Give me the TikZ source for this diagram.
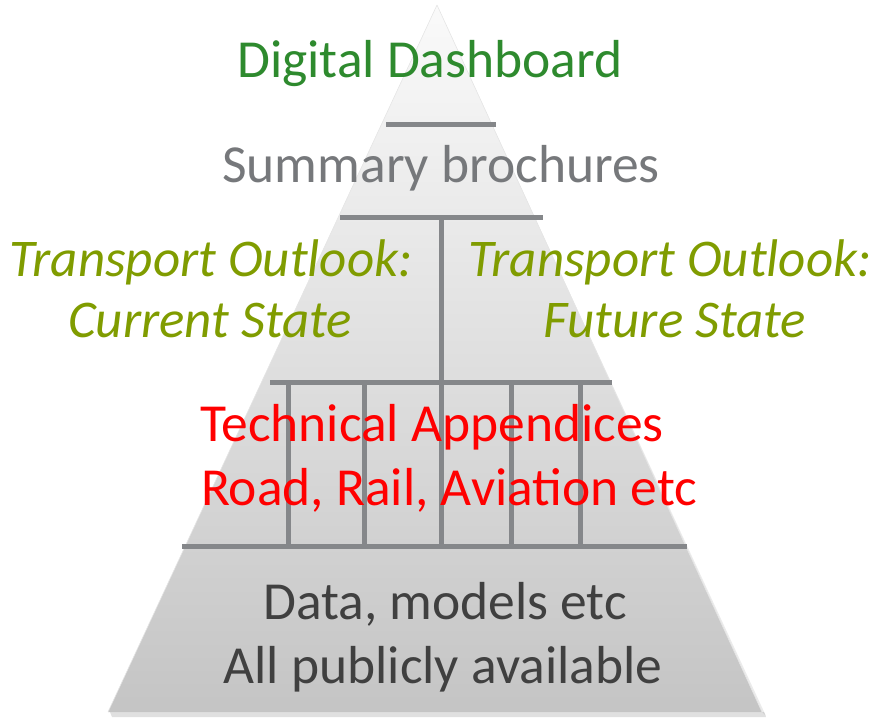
\documentclass[tikz,border=0pt]{standalone}
\usepackage{fontspec}
\setmainfont{Carlito}
\definecolor{dashgreen}{RGB}{46,138,46}
\definecolor{brochgray}{RGB}{118,120,123}
\definecolor{outlookolive}{RGB}{128,156,0}
\definecolor{datagray}{RGB}{64,64,64}
\definecolor{bargray}{RGB}{133,135,138}
\tikzset{
  bar/.style={draw=bargray, line width=5pt},
  label/.style={anchor=base, inner sep=0pt, font=\fontsize{53.5}{64}\selectfont},
  slanted/.style={label, text=outlookolive, font=\fontsize{53}{64}\selectfont\itshape}
}
\begin{document}
\begin{tikzpicture}[x=1pt, y=-1pt]
    \useasboundingbox (0,0) rectangle (876,719);
    \coordinate (Apex) at (437,5);
    \coordinate (BL) at (108,712);
    \coordinate (BR) at (762,712);
    % shadow and body
    \fill[black, opacity=0.12] (110,712) -- (764,712) -- (766,717) -- (112,717) -- cycle;
    \fill[black, opacity=0.08] (437,7) -- (766,716) -- (762,712) -- cycle;
    \shade[top color=black!2, middle color=black!14, bottom color=black!23] (Apex) -- (BL) -- (BR) -- cycle;
    \draw[white!90!black, line width=0.6pt] (Apex) -- (BL) (Apex) -- (BR);
    % separators
    \draw[bar] (386,125) -- (496,125);
    \draw[bar] (340,218) -- (543,218);
    \draw[bar] (441,218) -- (441,383);
    \draw[bar] (270,383) -- (612,383);
    \draw[bar] (288,383) -- (288,546);
    \draw[bar] (364,383) -- (364,546);
    \draw[bar] (441,383) -- (441,546);
    \draw[bar] (511,383) -- (511,546);
    \draw[bar] (580,383) -- (580,546);
    \draw[bar] (182,546) -- (687,546);
    % texts
    \node[label, text=dashgreen] (dash) at (430,78) {Digital Dashboard};
    \node[label, text=brochgray] (broch) at (441,183) {Summary brochures};
    \node[slanted] (curA) at (211,277) {Transport Outlook:};
    \node[slanted] (curB) at (210,338) {Current State};
    \node[slanted] (futA) at (670,277) {Transport Outlook:};
    \node[slanted] (futB) at (675,338) {Future State};
    \node[label, text=red] (techA) at (432,441) {Technical Appendices};
    \node[label, text=red] (techB) at (449,505) {Road, Rail, Aviation etc};
    \node[label, text=datagray] (dataA) at (445,619) {Data, models etc};
    \node[label, text=datagray] (dataB) at (443,683) {All publicly available};
\end{tikzpicture}
\end{document}
